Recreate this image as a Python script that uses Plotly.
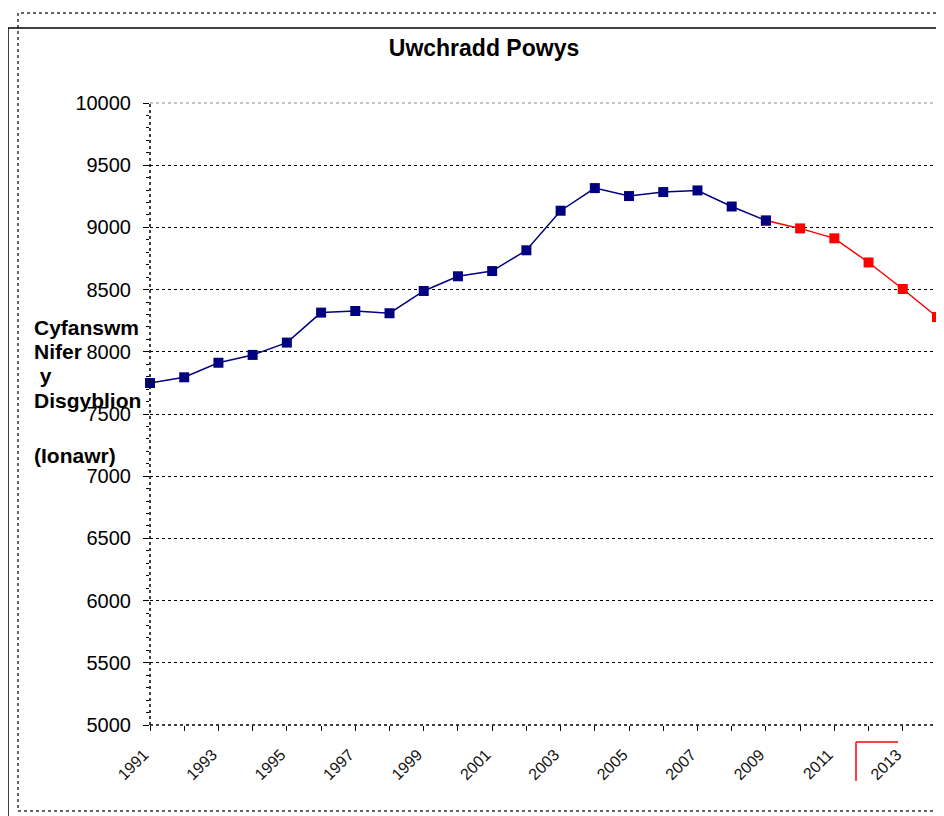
import plotly.graph_objects as go

years = list(range(1991, 2015))
actual_years = list(range(1991, 2010))
actual_values = [7749, 7795, 7912, 7975, 8074, 8315, 8328, 8310, 8489, 8607,
                 8649, 8816, 9134, 9316, 9252, 9284, 9297, 9168, 9055]
proj_years = list(range(2009, 2015))
proj_values = [9055, 8992, 8912, 8718, 8505, 8280]
tick_text = [str(y) if y % 2 == 1 else "" for y in years]
y_title_lines = ["Cyfanswm", "Nifer", " y", "Disgyblion", "", "(Ionawr)"]

OFF = 8  # page body margin
W, H = 944, 816
# plot area in screen pixels: x 150..937, y 103..725
L = 150 - OFF
T = 103 - OFF
R = W - (937 - OFF)
B = H - (725 - OFF)
pw, ph = W - L - R, H - T - B

def px(x):
    return (x - OFF - L) / pw

def py(y):
    return (H - B - (y - OFF)) / ph

fig = go.Figure()
fig.add_trace(go.Scatter(x=proj_years, y=proj_values, mode="lines+markers",
                         line=dict(color="#FF0000", width=1.5),
                         marker=dict(symbol="square", size=10, color="#FF0000"),
                         showlegend=False, cliponaxis=False))
fig.add_trace(go.Scatter(x=actual_years, y=actual_values, mode="lines+markers",
                         line=dict(color="#000080", width=1.5),
                         marker=dict(symbol="square", size=10, color="#000080"),
                         showlegend=False, cliponaxis=False))

shapes = []
# outer frames
shapes.append(dict(type="rect", xref="paper", yref="paper",
                   x0=px(18), x1=px(960), y0=py(811), y1=py(13),
                   line=dict(color="#333333", width=1.5, dash="dot")))
shapes.append(dict(type="line", xref="paper", yref="paper",
                   x0=px(8), x1=px(960), y0=py(28), y1=py(28),
                   line=dict(color="black", width=1.5)))
shapes.append(dict(type="line", xref="paper", yref="paper",
                   x0=px(8), x1=px(8), y0=py(28), y1=py(830),
                   line=dict(color="black", width=1.5)))
# plot area border (top/right)
shapes.append(dict(type="line", xref="paper", yref="paper", x0=0, x1=1, y0=1, y1=1,
                   line=dict(color="#888888", width=1, dash="dot")))
shapes.append(dict(type="line", xref="paper", yref="paper", x0=1, x1=1, y0=0, y1=1,
                   line=dict(color="#888888", width=1, dash="dot")))
# axis lines
shapes.append(dict(type="line", xref="paper", yref="paper", x0=0, x1=0, y0=0, y1=1,
                   line=dict(color="black", width=1.5, dash="dot")))
shapes.append(dict(type="line", xref="paper", yref="paper", x0=0, x1=1, y0=0, y1=0,
                   line=dict(color="black", width=1.5, dash="dot")))
# red corner marker near label
shapes.append(dict(type="line", xref="paper", yref="paper",
                   x0=px(856), x1=px(856), y0=py(742), y1=py(781),
                   line=dict(color="#FF0000", width=1.5)))
shapes.append(dict(type="line", xref="paper", yref="paper",
                   x0=px(856), x1=px(898), y0=py(742), y1=py(742),
                   line=dict(color="#FF0000", width=1.5)))

annotations = []
line_y = [327, 351, 375, 400, 427, 455]
for txt, yy in zip(y_title_lines, line_y):
    if txt.strip() == "":
        continue
    annotations.append(dict(text="<b>" + txt.replace(" ", "&nbsp;") + "</b>",
                            xref="paper", yref="paper", x=px(32), y=py(yy),
                            xanchor="left", yanchor="middle", showarrow=False,
                            font=dict(family="Liberation Sans, Arial", size=21, color="black")))

fig.update_layout(
    width=W, height=H,
    margin=dict(l=L, r=R, t=T, b=B),
    paper_bgcolor="white", plot_bgcolor="white",
    title=dict(text="<b>Uwchradd Powys</b>", xref="container", yref="container",
               x=(484 - OFF) / W, xanchor="center",
               y=1 - (48 - OFF) / H, yanchor="middle",
               font=dict(family="Liberation Sans, Arial", size=23, color="black")),
    xaxis=dict(range=[1991, 2014], tickmode="array", tickvals=years, ticktext=tick_text,
               tickangle=-45, ticks="outside", ticklen=5, tickcolor="black",
               ticklabelstandoff=8, ticklabelshift=-6,
               showgrid=False, showline=False, zeroline=False,
               tickfont=dict(family="Liberation Sans, Arial", size=16, color="#111111")),
    yaxis=dict(range=[5000, 10000], tickmode="linear", tick0=5000, dtick=500,
               tickformat="d",
               ticks="outside", ticklen=6, tickcolor="black",
               minor=dict(dtick=100, ticks="outside", ticklen=3, tickcolor="black", showgrid=False),
               showgrid=True, gridcolor="black", griddash="dot", gridwidth=1.2,
               showline=False, zeroline=False, ticklabelstandoff=8,
               tickfont=dict(family="Liberation Sans, Arial", size=20, color="black")),
    shapes=shapes, annotations=annotations,
)

fig.write_html("out.html")
